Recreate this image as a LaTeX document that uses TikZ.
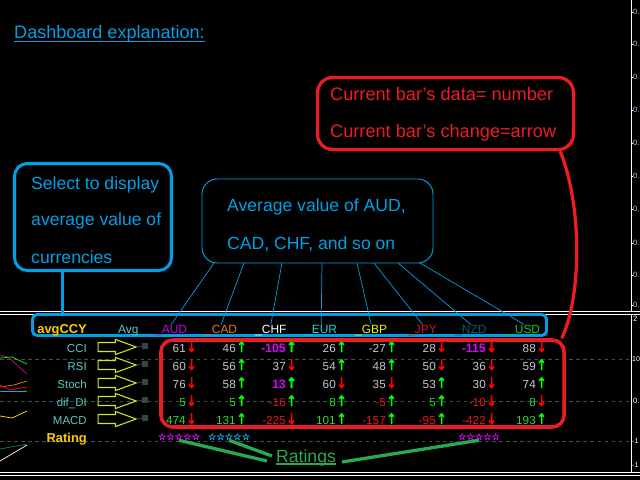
\documentclass[tikz,border=0pt]{standalone}
\usepackage{fontspec}
\usepackage{graphicx}
\setmainfont{Liberation Sans}
\newfontfamily\dejavu{DejaVu Sans}
\newfontfamily\starfont[FakeBold=1.5]{DejaVu Sans}
\newfontfamily\arrfont[FakeBold=3]{DejaVu Sans}
\usetikzlibrary{positioning,shapes.arrows}

\newlength{\pxl}
\setlength{\pxl}{0.03cm}

\definecolor{mtblue}{RGB}{0,160,230}
\definecolor{mtred}{RGB}{236,28,36}
\definecolor{mtgold}{RGB}{255,204,0}
\definecolor{mtteal}{RGB}{90,200,200}
\definecolor{mtlime}{RGB}{210,230,40}
\definecolor{mtgrid}{RGB}{55,85,75}
\definecolor{mtsquare}{RGB}{50,70,70}
\definecolor{numgray}{RGB}{200,200,205}
\definecolor{numgreen}{RGB}{40,220,40}
\definecolor{numred}{RGB}{235,20,20}
\definecolor{numhi}{RGB}{225,0,255}
\definecolor{ratgreen}{RGB}{40,170,80}
\definecolor{arrgreen}{RGB}{0,255,0}
\definecolor{arrred}{RGB}{255,0,0}
\definecolor{craud}{RGB}{200,0,240}
\definecolor{crcad}{RGB}{235,120,20}
\definecolor{creur}{RGB}{40,210,210}
\definecolor{crgbp}{RGB}{240,240,0}
\definecolor{crjpy}{RGB}{220,20,20}
\definecolor{crnzd}{RGB}{0,100,110}
\definecolor{crusd}{RGB}{30,200,30}
\definecolor{axblue}{RGB}{170,200,255}

% arrows after each value
\newcommand{\arrup}{\makebox[11\pxl][r]{\arrfont\fontsize{12.5}{12}\selectfont\color{arrgreen}\scalebox{0.85}[1]{↑}}}
\newcommand{\arrdn}{\makebox[11\pxl][r]{\arrfont\fontsize{12.5}{12}\selectfont\color{arrred}\scalebox{0.85}[1]{↓}}}

\tikzset{
  callblue/.style={draw=mtblue, line width=2.6pt, rounded corners=11pt, inner sep=0pt},
  callthin/.style={draw=mtblue, line width=0.8pt, rounded corners=13pt, inner sep=0pt},
  callred/.style={draw=mtred, line width=2.8pt, rounded corners=13pt, inner sep=0pt},
  bluetext/.style={text=mtblue, font=\fontsize{15}{18}\selectfont, anchor=base west, inner sep=0pt},
  redtext/.style={text=mtred, font=\fontsize{15.5}{18}\selectfont, anchor=base west, inner sep=0pt},
  fan/.style={draw=mtblue, line width=0.6pt},
  hdr/.style={font=\fontsize{10.2}{12}\selectfont, anchor=base west, inner sep=0pt},
  rowlab/.style={text=mtteal, font=\fontsize{9.8}{12}\selectfont, anchor=base east, inner sep=0pt},
  goldlab/.style={text=mtgold, font=\bfseries\fontsize{11}{13}\selectfont, anchor=base east, inner sep=0pt},
  ptr/.style={single arrow, draw=mtlime, line width=0.9pt, minimum height=1.14cm,
    inner xsep=0pt, inner ysep=3.4pt, single arrow head extend=2.6pt, single arrow tip angle=40},
  sq/.style={fill=mtsquare, minimum size=0.18cm, inner sep=0pt},
  cell/.style={font=\fontsize{10}{12}\selectfont, anchor=base east, inner sep=0pt},
  numgr/.style={cell, text=numgray},
  numhigh/.style={cell, text=numhi, font=\bfseries\fontsize{10.5}{12}\selectfont},
  numplus/.style={cell, text=numgreen},
  numminus/.style={cell, text=numred},
  stars/.style={font=\starfont\fontsize{8}{9}\selectfont, inner sep=0pt, anchor=base},
  ratline/.style={draw=ratgreen, line width=2.8pt},
  gridline/.style={draw=mtgrid, dash pattern=on 3pt off 3pt, line width=0.6pt},
  axlab/.style={font=\fontsize{6.5}{7}\selectfont, anchor=west, inner sep=0pt},
  axline/.style={draw=white, line width=0.8pt},
}

\begin{document}
\begin{tikzpicture}[x=0.03cm, y=-0.03cm]
\fill[black] (0,0) rectangle (640,480);
\clip (0,0) rectangle (640,480);

% chart frame and price axis
\draw[axline] (0,311) -- (640,311);
\draw[axline] (0,314) -- (640,314);
\draw[axline] (0,472) -- (640,472);
\draw[axline] (0,475) -- (640,475);
\draw[axline] (631,0) -- (631,311);
\draw[axline] (631,314) -- (631,472);
\draw[axline] (631,12) -- (633,12);   \node[axlab, text=axblue] (ua) at (633,12) {0.};
\draw[axline] (631,44) -- (633,44);   \node[axlab, text=axblue] (ub) at (633,44) {0.};
\draw[axline] (631,77) -- (633,77);   \node[axlab, text=axblue] (uc) at (633,77) {0.};
\draw[axline] (631,110) -- (633,110); \node[axlab, text=axblue] (ud) at (633,110) {0.};
\draw[axline] (631,143) -- (633,143); \node[axlab, text=axblue] (ue) at (633,143) {0.};
\draw[axline] (631,176) -- (633,176); \node[axlab, text=axblue] (uf) at (633,176) {0.};
\draw[axline] (631,209) -- (633,209); \node[axlab, text=axblue] (ug) at (633,209) {0.};
\draw[axline] (631,243) -- (633,243); \node[axlab, text=axblue] (uh) at (633,243) {0.};
\draw[axline] (631,275) -- (633,275); \node[axlab, text=axblue] (ui) at (633,275) {0.};
\draw[axline] (631,305) -- (633,305); \node[axlab, text=axblue] (uj) at (633,305) {0.};
\node[axlab, text=white] (la) at (633,319) {2};
\node[axlab, text=white, font=\fontsize{6}{7}\selectfont] (lb) at (632,359) {10};
\node[axlab, text=white] (lc) at (633,401) {0.};
\node[axlab, text=white, font=\fontsize{6}{7}\selectfont] (ld) at (632,441) {-1};
\node[axlab, text=white, font=\fontsize{6}{7}\selectfont] (le) at (632,465) {-1};
\draw[gridline] (0,359) -- (631,359);
\draw[gridline] (0,401) -- (631,401);
\draw[gridline] (0,441) -- (631,441);

% indicator lines at the left edge
\draw[green, line width=0.6pt] (0,358) -- (12,357) -- (27,364);
\draw[magenta, line width=0.6pt] (0,355) -- (8,357) -- (27,374);
\draw[orange, line width=0.6pt] (0,387) -- (14,385) -- (27,381);
\draw[red, line width=0.6pt] (0,385) -- (10,390) -- (27,387);
\draw[cyan, line width=0.6pt] (0,391) -- (27,391);
\draw[yellow, line width=0.6pt] (0,416) -- (12,418) -- (27,411);
\draw[teal, line width=0.6pt] (0,449) -- (27,444);
\draw[white, line width=0.6pt] (0,461) -- (27,445);

% title
\node[text=mtblue, font=\fontsize{15.4}{18}\selectfont, anchor=base west, inner sep=0pt] (title) at (14,39) {Dashboard explanation:};
\draw[mtblue, line width=0.9pt] ([yshift=-2.5\pxl]title.base west) -- ([yshift=-2.5\pxl]title.base east);

% callouts
\node[callred, minimum width=7.68cm, minimum height=2.16cm] (barbox) at (445.5,113.5) {};
\node[redtext] (bar1) at (330,101) {Current bar's data= number};
\node[redtext] (bar2) at (330,138) {Current bar's change=arrow};
\node[callblue, minimum width=4.71cm, minimum height=3.21cm] (selbox) at (93,217) {};
\node[bluetext] (sel1) at (31,189) {Select to display};
\node[bluetext] (sel2) at (31,226) {average value of};
\node[bluetext] (sel3) at (31,263) {currencies};
\node[callthin, minimum width=6.93cm, minimum height=2.52cm] (avgbox) at (317.5,221) {};
\node[bluetext] (avg1) at (227,212) {Average value of AUD,};
\node[bluetext] (avg2) at (227,249) {CAD, CHF, and so on};

% header row
\node[draw=mtblue, line width=2.5pt, rounded corners=4pt, minimum width=15.42cm, minimum height=0.63cm] (hdrbox) at (289.5,325) {};
\node[goldlab] (avgccy) at (87,333) {avgCCY};
\node[hdr, text=mtteal] (avg) at (118,333) {Avg};
\node[hdr, text=craud] (hdaud) at (155,333) {\_AUD};
\node[hdr, text=crcad] (hdcad) at (205,333) {\_CAD};
\node[hdr, text=white] (hdchf) at (255,333) {\_CHF};
\node[hdr, text=creur] (hdeur) at (305,333) {\_EUR};
\node[hdr, text=crgbp] (hdgbp) at (355,333) {\_GBP};
\node[hdr, text=crjpy] (hdjpy) at (408,333) {\_JPY};
\node[hdr, text=crnzd] (hdnzd) at (455,333) {\_NZD};
\node[hdr, text=crusd] (hdusd) at (508,333) {\_USD};
\draw[mtblue, line width=2.6pt] (selbox.south -| avgccy.north) -- (hdrbox.north -| avgccy.north);

% fan from the average callout
\coordinate (f1) at (214,263);
\coordinate (f2) at (244,263);
\coordinate (f3) at (282,263);
\coordinate (f4) at (322,263);
\coordinate (f5) at (357,263);
\coordinate (f6) at (374,263);
\coordinate (f7) at (398,263);
\coordinate (f8) at (420,263);
\draw[fan] (f1) -- (hdaud.north);
\draw[fan] (f2) -- (hdcad.north);
\draw[fan] (f3) -- (hdchf.north);
\draw[fan] (f4) -- (hdeur.north);
\draw[fan] (f5) -- (hdgbp.north);
\draw[fan] (f6) -- (hdjpy.north);
\draw[fan] (f7) -- (hdnzd.north);
\draw[fan] (f8) -- (hdusd.north);

% indicator rows
\node[rowlab] (lcci) at (87,352) {CCI};
\node[rowlab] (lrsi) at (87,370) {RSI};
\node[rowlab] (lsto) at (87,388) {Stoch};
\node[rowlab] (ldif) at (87,406) {dif\_DI};
\node[rowlab] (lmac) at (87,424) {MACD};
\node[goldlab] (lrat) at (87,442) {Rating};
\node[ptr] (pcci) at (111,347) {};
\node[ptr] (prsi) at (111,365) {};
\node[ptr] (psto) at (111,383) {};
\node[ptr] (pdif) at (111,401) {};
\node[ptr] (pmac) at (111,419) {};
\node[sq] (scci) at (145,346) {};
\node[sq] (srsi) at (145,364) {};
\node[sq] (ssto) at (145,382) {};
\node[sq] (sdif) at (145,400) {};
\node[sq] (smac) at (145,418) {};
\draw[mtsquare, line width=0.8pt] (pcci.tip) -- (scci.west);
\draw[mtsquare, line width=0.8pt] (prsi.tip) -- (srsi.west);
\draw[mtsquare, line width=0.8pt] (psto.tip) -- (ssto.west);
\draw[mtsquare, line width=0.8pt] (pdif.tip) -- (sdif.west);
\draw[mtsquare, line width=0.8pt] (pmac.tip) -- (smac.west);

% values: CCI
\node[numgr] (c1) at (197,352) {61\arrdn};
\node[numgr] (c2) at (247,352) {46\arrup};
\node[numhigh] (c3) at (297,352) {-105\arrup};
\node[numgr] (c4) at (347,352) {26\arrup};
\node[numgr] (c5) at (397,352) {-27\arrup};
\node[numgr] (c6) at (447,352) {28\arrdn};
\node[numhigh] (c7) at (497,352) {-115\arrdn};
\node[numgr] (c8) at (547,352) {88\arrdn};
% values: RSI
\node[numgr] (r1) at (197,370) {60\arrdn};
\node[numgr] (r2) at (247,370) {56\arrup};
\node[numgr] (r3) at (297,370) {37\arrdn};
\node[numgr] (r4) at (347,370) {54\arrup};
\node[numgr] (r5) at (397,370) {48\arrup};
\node[numgr] (r6) at (447,370) {50\arrdn};
\node[numgr] (r7) at (497,370) {36\arrdn};
\node[numgr] (r8) at (547,370) {59\arrup};
% values: Stoch
\node[numgr] (s1) at (197,388) {76\arrdn};
\node[numgr] (s2) at (247,388) {58\arrup};
\node[numhigh] (s3) at (297,388) {13\arrup};
\node[numgr] (s4) at (347,388) {60\arrdn};
\node[numgr] (s5) at (397,388) {35\arrdn};
\node[numgr] (s6) at (447,388) {53\arrup};
\node[numgr] (s7) at (497,388) {30\arrdn};
\node[numgr] (s8) at (547,388) {74\arrup};
% values: dif_DI
\node[numplus] (d1) at (197,406) {5\arrdn};
\node[numplus] (d2) at (247,406) {5\arrup};
\node[numminus] (d3) at (297,406) {-16\arrup};
\node[numplus] (d4) at (347,406) {8\arrup};
\node[numminus] (d5) at (397,406) {-5\arrup};
\node[numplus] (d6) at (447,406) {5\arrup};
\node[numminus] (d7) at (497,406) {-10\arrdn};
\node[numplus] (d8) at (547,406) {8\arrdn};
% values: MACD
\node[numplus] (m1) at (197,424) {474\arrdn};
\node[numplus] (m2) at (247,424) {131\arrup};
\node[numminus] (m3) at (297,424) {-225\arrdn};
\node[numplus] (m4) at (347,424) {101\arrup};
\node[numminus] (m5) at (397,424) {-157\arrup};
\node[numminus] (m6) at (447,424) {-95\arrup};
\node[numminus] (m7) at (497,424) {-422\arrdn};
\node[numplus] (m8) at (547,424) {193\arrup};

\node[callred, line width=3pt, rounded corners=10pt, minimum width=12.09cm, minimum height=2.61cm] (databox) at (362.5,383.5) {};
\draw[mtred, line width=2.8pt] ([xshift=-15\pxl]barbox.south east) .. controls (582,205) and (582,295) .. ([xshift=-4\pxl]databox.north east);

% ratings
\node[stars, text=numhi] (rataud) at (179,440) {☆☆☆☆☆};
\node[stars, text=cyan] (ratcad) at (229,440) {☆☆☆☆☆};
\node[stars, text=numhi] (ratnzd) at (479,440) {☆☆☆☆☆};
\node[text=ratgreen, font=\fontsize{15}{18}\selectfont, anchor=base west, inner sep=0pt] (ratings) at (276,462) {Ratings};
\draw[ratgreen, line width=0.9pt] ([yshift=-2\pxl]ratings.base west) -- ([yshift=-2\pxl]ratings.base east);
\draw[ratline] (rataud.south) -- ([shift={(-9\pxl,1\pxl)}]ratings.base west);
\draw[ratline] (ratcad.south) -- ([shift={(-4\pxl,6\pxl)}]ratings.base west);
\draw[ratline] ([xshift=6\pxl]ratings.base east) -- (ratnzd.south);
\end{tikzpicture}
\end{document}
